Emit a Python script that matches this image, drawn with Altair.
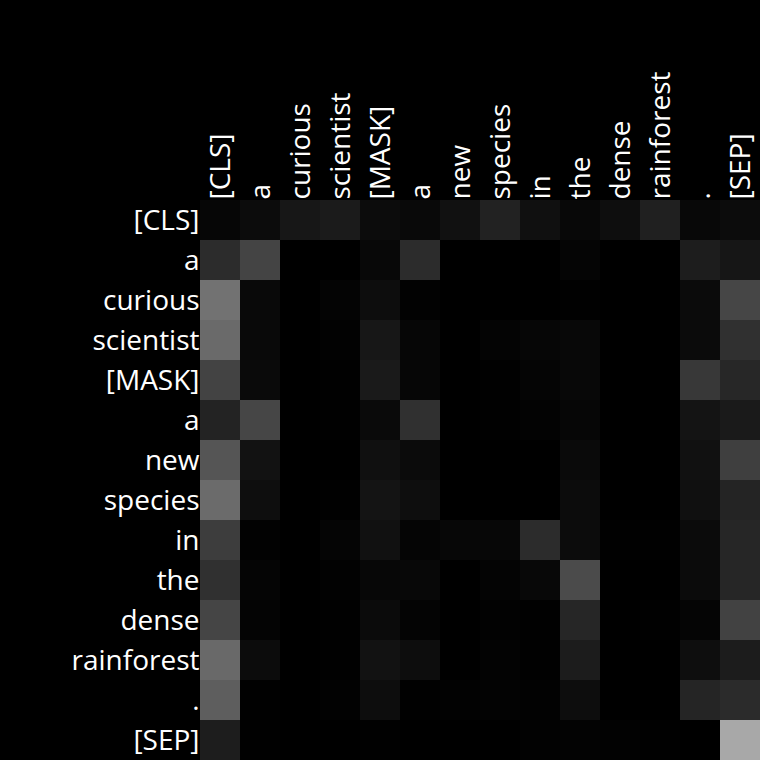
import json
import altair as alt
import pandas as pd

tokens = ["[CLS]", "a", "curious", "scientist", "[MASK]", "a", "new", "species",
          "in", "the", "dense", "rainforest", ".", "[SEP]"]

# attention weights read as grey levels (0-255)
grey = [
    [0x06, 0x0c, 0x17, 0x1b, 0x0c, 0x09, 0x11, 0x22, 0x10, 0x08, 0x0e, 0x20, 0x08, 0x0c],
    [0x2c, 0x44, 0x00, 0x00, 0x08, 0x2c, 0x00, 0x00, 0x00, 0x05, 0x00, 0x00, 0x1d, 0x16],
    [0x72, 0x09, 0x00, 0x04, 0x0d, 0x02, 0x00, 0x00, 0x00, 0x01, 0x00, 0x00, 0x0b, 0x46],
    [0x6a, 0x09, 0x00, 0x02, 0x17, 0x06, 0x00, 0x04, 0x06, 0x08, 0x00, 0x00, 0x0b, 0x30],
    [0x43, 0x0a, 0x00, 0x01, 0x1a, 0x06, 0x00, 0x01, 0x05, 0x08, 0x00, 0x00, 0x38, 0x27],
    [0x23, 0x46, 0x00, 0x01, 0x0a, 0x30, 0x00, 0x01, 0x03, 0x06, 0x00, 0x00, 0x14, 0x1a],
    [0x55, 0x12, 0x00, 0x00, 0x10, 0x0b, 0x00, 0x00, 0x00, 0x0a, 0x00, 0x00, 0x11, 0x3f],
    [0x6b, 0x0e, 0x00, 0x01, 0x14, 0x0e, 0x00, 0x00, 0x00, 0x0c, 0x00, 0x00, 0x10, 0x24],
    [0x3d, 0x02, 0x00, 0x05, 0x11, 0x05, 0x07, 0x07, 0x2c, 0x0c, 0x01, 0x01, 0x0b, 0x26],
    [0x30, 0x05, 0x00, 0x02, 0x07, 0x08, 0x00, 0x04, 0x08, 0x4b, 0x00, 0x00, 0x0b, 0x26],
    [0x45, 0x04, 0x00, 0x01, 0x0b, 0x04, 0x00, 0x02, 0x01, 0x26, 0x00, 0x01, 0x05, 0x42],
    [0x69, 0x0c, 0x00, 0x01, 0x12, 0x0d, 0x00, 0x03, 0x01, 0x1c, 0x00, 0x00, 0x0e, 0x1c],
    [0x5e, 0x01, 0x00, 0x02, 0x0d, 0x01, 0x02, 0x03, 0x02, 0x0d, 0x00, 0x00, 0x25, 0x2b],
    [0x1d, 0x01, 0x00, 0x00, 0x01, 0x00, 0x00, 0x00, 0x02, 0x03, 0x02, 0x01, 0x00, 0xa8],
]

rows = []
for i, r in enumerate(grey):
    for j, g in enumerate(r):
        rows.append({"row": i, "col": j, "w": g / 255.0})
df = pd.DataFrame(rows)

label_expr = json.dumps(tokens) + "[datum.value]"

chart = alt.Chart(df).mark_rect().encode(
    x=alt.X("col:O", axis=alt.Axis(orient="top", labelExpr=label_expr, labelAngle=-90,
                                   ticks=False, domain=False, title=None,
                                   labelFontSize=28, labelColor="white",
                                   labelFont="Open Sans", labelPadding=1,
                                   labelOffset=2)),
    y=alt.Y("row:O", axis=alt.Axis(labelExpr=label_expr, ticks=False, domain=False,
                                   title=None, labelFontSize=28, labelColor="white",
                                   labelFont="Open Sans", labelPadding=1,
                                   labelOffset=2)),
    color=alt.Color("w:Q", scale=alt.Scale(domain=[0, 1], range=["#000000", "#ffffff"],
                                           interpolate="rgb"),
                    legend=None),
).properties(
    width=560, height=560, background="black",
    padding={"left": 200, "top": 200, "right": 0, "bottom": 0},
    autosize=alt.AutoSizeParams(type="none"),
).configure_view(stroke=None).configure_scale(bandPaddingInner=0, bandPaddingOuter=0)

chart.save("out.html", embed_options={"renderer": "svg", "actions": False})
